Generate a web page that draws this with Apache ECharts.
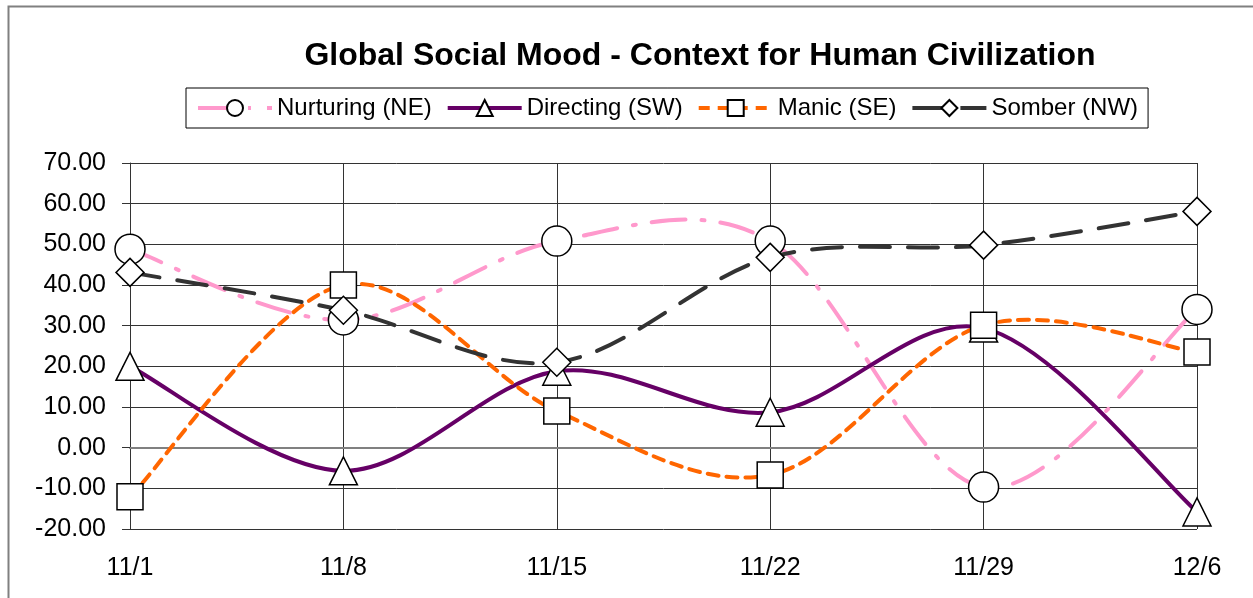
<!DOCTYPE html>
<html>
<head>
<meta charset="utf-8">
<script src="https://cdn.jsdelivr.net/npm/echarts@6/dist/echarts.min.js"></script>
<style>
  html, body { margin: 0; padding: 0; background: #fff; }
  #chart { width: 1253px; height: 598px; }
</style>
</head>
<body>
<div id="chart"></div>
<script>
  // weekly dates
  var dates = ['11/1', '11/8', '11/15', '11/22', '11/29', '12/6']
  var nurturing = [48.8, 31.4, 50.8, 50.8, -9.7, 34.0]
  var directing = [20.0, -5.7, 18.8, 8.7, 29.4, -15.8]
  var manic = [-12.1, 40.0, 9.0, -6.7, 30.1, 23.5]
  var somber = [43.1, 33.8, 21.0, 46.8, 49.8, 58.1]

  var FONT = 'Liberation Sans, Arial, sans-serif'

  // excel-like smoothed curve (catmull-rom style), drawn through the axis coords
  function curveSeries(values, color, dash) {
    return {
      type: 'custom',
      data: values,
      silent: true,
      z: 2,
      renderItem: function (params, api) {
        if (params.dataIndex !== 0) return null
        var pts = values.map(function (v, i) { return api.coord([i, v]) })
        var d = 'M' + pts[0][0] + ' ' + pts[0][1]
        for (var i = 0; i < pts.length - 1; i++) {
          var p0 = pts[i - 1] || pts[i]
          var p1 = pts[i]
          var p2 = pts[i + 1]
          var p3 = pts[i + 2] || pts[i + 1]
          var c1x = p1[0] + (p2[0] - p0[0]) / 6
          var c1y = p1[1] + (p2[1] - p0[1]) / 6
          var c2x = p2[0] - (p3[0] - p1[0]) / 6
          var c2y = p2[1] - (p3[1] - p1[1]) / 6
          d += ' C' + c1x + ' ' + c1y + ' ' + c2x + ' ' + c2y + ' ' + p2[0] + ' ' + p2[1]
        }
        return {
          type: 'path',
          shape: { pathData: d },
          style: { fill: 'none', stroke: color, lineWidth: 4, lineDash: dash, lineCap: 'round' }
        }
      }
    }
  }

  function markerSeries(name, data, color, dash, symbol, size) {
    return {
      name: name,
      type: 'line',
      data: data,
      symbol: symbol,
      symbolSize: size,
      showAllSymbol: true,
      lineStyle: { color: color, width: 4, type: dash, opacity: 0 },
      itemStyle: { color: '#fff', borderColor: '#000', borderWidth: 1.5 },
      emphasis: { disabled: true },
      z: 3
    }
  }

  var styles = [
    ['Nurturing (NE)', nurturing, '#ff99cc', [34, 16, 3, 16], 'circle', 30],
    ['Directing (SW)', directing, '#660066', null, 'triangle', 28],
    ['Manic (SE)', manic, '#ff6600', [11, 8], 'rect', 26],
    ['Somber (NW)', somber, '#333333', [30, 18], 'diamond', 28]
  ]

  var series = []
  styles.forEach(function (s) {
    series.push(curveSeries(s[1], s[2], s[3]))
    series.push(markerSeries(s[0], s[1], s[2], s[3] || 'solid', s[4], s[5]))
  })

  var chart = echarts.init(document.getElementById('chart'))
  chart.setOption({
    animation: false,
    textStyle: { fontFamily: FONT, color: '#000' },
    title: {
      text: 'Global Social Mood - Context for Human Civilization',
      left: 695,
      top: 35,
      textAlign: 'center',
      textStyle: { fontSize: 32, fontWeight: 'bold', color: '#000', fontFamily: FONT }
    },
    legend: {
      left: 186,
      top: 88,
      padding: [8, 10, 8, 10],
      borderColor: '#000',
      borderWidth: 1,
      itemGap: 14,
      itemWidth: 74,
      itemHeight: 20,
      textStyle: { fontSize: 24, color: '#000', fontFamily: FONT },
      data: styles.map(function (s) {
        return { name: s[0], lineStyle: { opacity: 1, width: 4 } }
      })
    },
    graphic: [{
      type: 'rect',
      shape: { x: 8.5, y: 6.5, width: 1260, height: 600 },
      style: { fill: 'none', stroke: '#808080', lineWidth: 2 },
      silent: true
    }],
    grid: { left: 130, right: 56, top: 163, bottom: 69 },
    xAxis: {
      type: 'category',
      data: dates,
      boundaryGap: false,
      axisLine: { lineStyle: { color: '#808080', width: 2 } },
      axisTick: { show: false },
      axisLabel: { fontSize: 25, color: '#000', margin: 27 },
      splitLine: { show: true, lineStyle: { color: '#333', width: 1 } }
    },
    yAxis: {
      type: 'value',
      min: -20,
      max: 70,
      interval: 10,
      axisLine: { show: true, lineStyle: { color: '#333', width: 1 } },
      axisTick: { show: true, length: 8, lineStyle: { color: '#333' } },
      axisLabel: {
        fontSize: 25,
        color: '#000',
        margin: 24,
        formatter: function (v) { return v.toFixed(2) }
      },
      splitLine: { lineStyle: { color: '#333', width: 1 } }
    },
    series: series
  })
</script>
</body>
</html>
